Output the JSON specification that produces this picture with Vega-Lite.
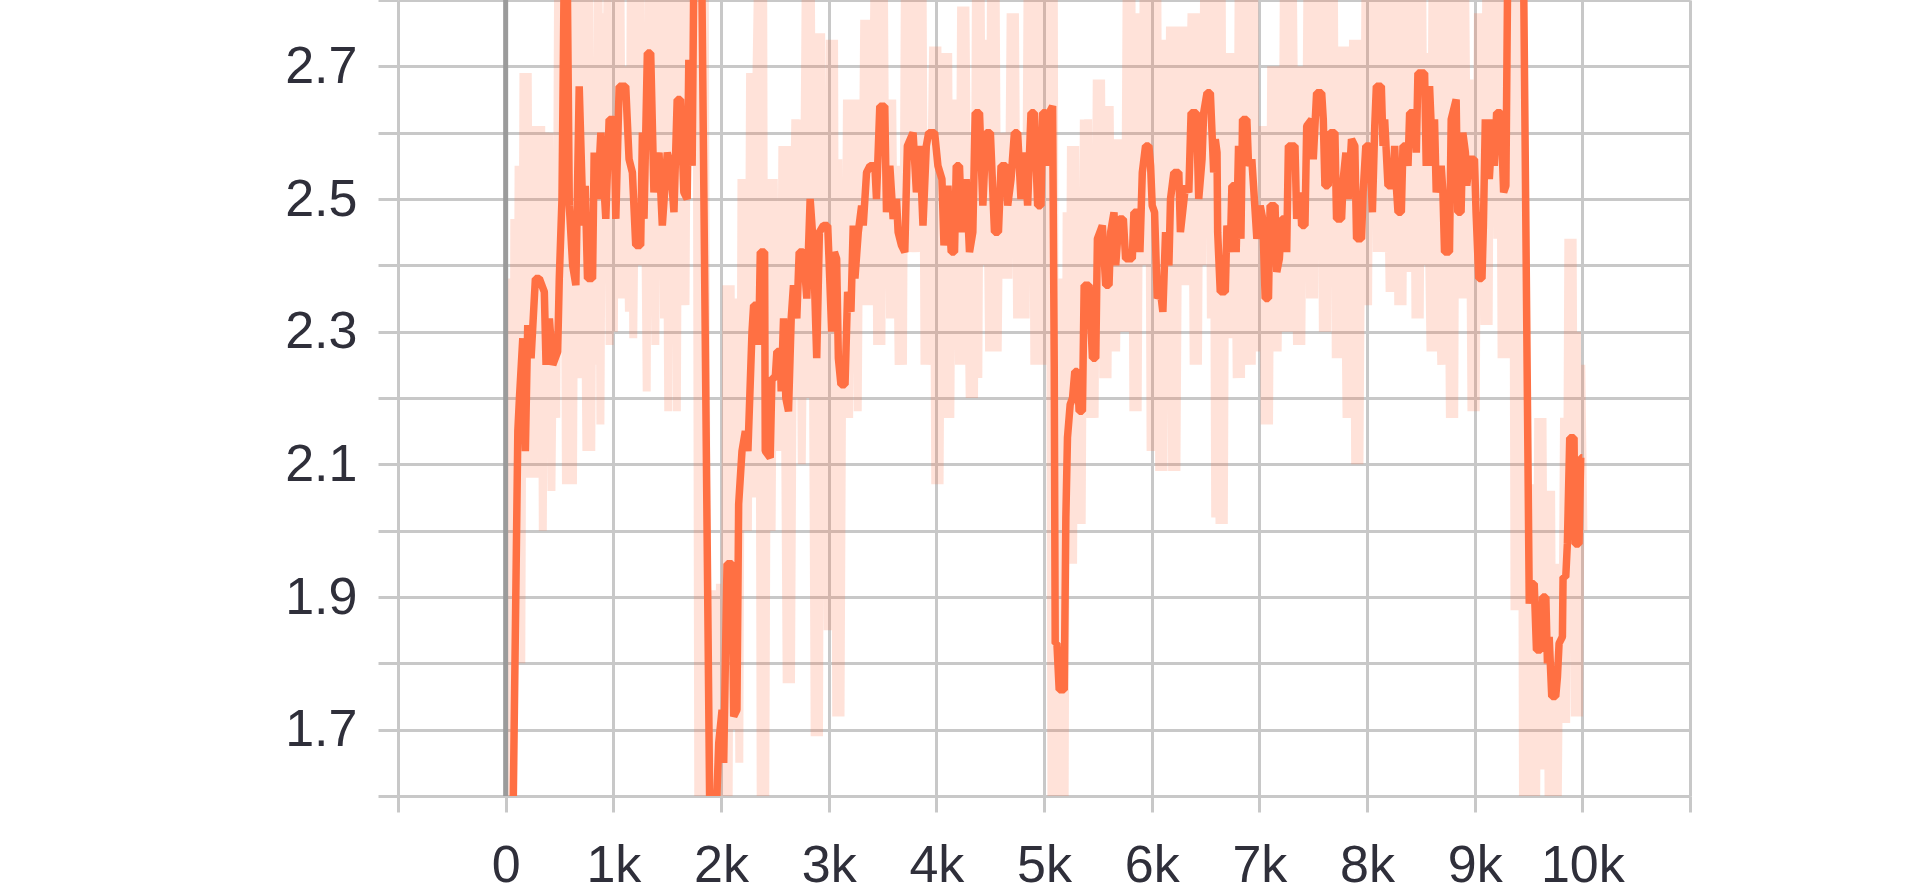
{
"$schema": "https://vega.github.io/schema/vega-lite/v6.json",
"width": 1292, "height": 796,
"autosize": {"type": "none"},
"padding": {"left": 398, "top": 0, "right": 230, "bottom": 97},
"background": "white",
"config": {"view": {"stroke": null}},
"datasets": {
"zero": [{"step": 0}],
"smoothed": [
{"step":52,"value":1.35},{"step":113,"value":2.15},{"step":128,"value":2.2},{"step":159,"value":2.29},{"step":183,"value":2.12},{"step":205,"value":2.31},{"step":236,"value":2.26},{"step":276,"value":2.38},{"step":313,"value":2.38},{"step":359,"value":2.36},{"step":375,"value":2.25},{"step":406,"value":2.32},{"step":437,"value":2.25},{"step":483,"value":2.27},{"step":498,"value":2.38},{"step":523,"value":2.5},{"step":544,"value":2.85},{"step":566,"value":2.95},{"step":591,"value":2.49},{"step":622,"value":2.4},{"step":652,"value":2.37},{"step":683,"value":2.67},{"step":720,"value":2.46},{"step":739,"value":2.52},{"step":760,"value":2.38},{"step":807,"value":2.38},{"step":822,"value":2.57},{"step":853,"value":2.5},{"step":884,"value":2.6},{"step":930,"value":2.47},{"step":961,"value":2.62},{"step":1007,"value":2.62},{"step":1023,"value":2.47},{"step":1054,"value":2.67},{"step":1115,"value":2.67},{"step":1146,"value":2.56},{"step":1177,"value":2.54},{"step":1208,"value":2.43},{"step":1254,"value":2.43},{"step":1270,"value":2.6},{"step":1285,"value":2.47},{"step":1316,"value":2.72},{"step":1347,"value":2.72},{"step":1377,"value":2.51},{"step":1424,"value":2.57},{"step":1455,"value":2.46},{"step":1501,"value":2.57},{"step":1532,"value":2.55},{"step":1563,"value":2.48},{"step":1593,"value":2.65},{"step":1624,"value":2.65},{"step":1655,"value":2.51},{"step":1686,"value":2.5},{"step":1701,"value":2.71},{"step":1732,"value":2.55},{"step":1748,"value":2.85},{"step":1780,"value":3.0},{"step":1815,"value":2.95},{"step":1900,"value":1.5},{"step":1940,"value":1.5},{"step":1979,"value":1.68},{"step":2010,"value":1.73},{"step":2025,"value":1.65},{"step":2056,"value":1.95},{"step":2103,"value":1.95},{"step":2118,"value":1.72},{"step":2148,"value":1.73},{"step":2164,"value":2.04},{"step":2195,"value":2.12},{"step":2226,"value":2.15},{"step":2250,"value":2.12},{"step":2288,"value":2.3},{"step":2303,"value":2.34},{"step":2334,"value":2.34},{"step":2350,"value":2.28},{"step":2365,"value":2.42},{"step":2405,"value":2.42},{"step":2411,"value":2.12},{"step":2457,"value":2.11},{"step":2473,"value":2.23},{"step":2504,"value":2.23},{"step":2519,"value":2.27},{"step":2550,"value":2.27},{"step":2559,"value":2.21},{"step":2581,"value":2.32},{"step":2602,"value":2.2},{"step":2627,"value":2.18},{"step":2652,"value":2.32},{"step":2673,"value":2.37},{"step":2704,"value":2.32},{"step":2726,"value":2.42},{"step":2766,"value":2.42},{"step":2797,"value":2.35},{"step":2828,"value":2.5},{"step":2858,"value":2.43},{"step":2889,"value":2.26},{"step":2914,"value":2.45},{"step":2951,"value":2.46},{"step":2991,"value":2.46},{"step":3003,"value":2.41},{"step":3028,"value":2.3},{"step":3053,"value":2.42},{"step":3074,"value":2.41},{"step":3090,"value":2.26},{"step":3114,"value":2.22},{"step":3152,"value":2.22},{"step":3176,"value":2.36},{"step":3207,"value":2.33},{"step":3228,"value":2.46},{"step":3244,"value":2.38},{"step":3275,"value":2.45},{"step":3306,"value":2.49},{"step":3321,"value":2.46},{"step":3352,"value":2.54},{"step":3383,"value":2.55},{"step":3429,"value":2.55},{"step":3444,"value":2.5},{"step":3475,"value":2.64},{"step":3521,"value":2.64},{"step":3537,"value":2.48},{"step":3568,"value":2.55},{"step":3599,"value":2.47},{"step":3630,"value":2.5},{"step":3645,"value":2.45},{"step":3676,"value":2.43},{"step":3707,"value":2.42},{"step":3731,"value":2.58},{"step":3784,"value":2.6},{"step":3815,"value":2.51},{"step":3846,"value":2.58},{"step":3876,"value":2.46},{"step":3907,"value":2.58},{"step":3929,"value":2.6},{"step":3984,"value":2.6},{"step":4015,"value":2.55},{"step":4052,"value":2.53},{"step":4071,"value":2.43},{"step":4108,"value":2.52},{"step":4138,"value":2.42},{"step":4169,"value":2.42},{"step":4185,"value":2.55},{"step":4215,"value":2.55},{"step":4237,"value":2.45},{"step":4277,"value":2.53},{"step":4308,"value":2.42},{"step":4339,"value":2.45},{"step":4361,"value":2.63},{"step":4401,"value":2.63},{"step":4432,"value":2.49},{"step":4462,"value":2.6},{"step":4502,"value":2.6},{"step":4540,"value":2.45},{"step":4577,"value":2.45},{"step":4601,"value":2.55},{"step":4647,"value":2.55},{"step":4663,"value":2.49},{"step":4694,"value":2.53},{"step":4725,"value":2.6},{"step":4755,"value":2.6},{"step":4786,"value":2.5},{"step":4817,"value":2.57},{"step":4848,"value":2.49},{"step":4879,"value":2.63},{"step":4910,"value":2.63},{"step":4941,"value":2.49},{"step":4972,"value":2.49},{"step":4987,"value":2.63},{"step":5018,"value":2.63},{"step":5033,"value":2.55},{"step":5049,"value":2.63},{"step":5080,"value":2.64},{"step":5095,"value":2.25},{"step":5104,"value":1.83},{"step":5120,"value":1.83},{"step":5141,"value":1.76},{"step":5188,"value":1.76},{"step":5203,"value":2.02},{"step":5218,"value":2.14},{"step":5243,"value":2.19},{"step":5265,"value":2.2},{"step":5286,"value":2.24},{"step":5311,"value":2.24},{"step":5326,"value":2.18},{"step":5357,"value":2.18},{"step":5373,"value":2.37},{"step":5419,"value":2.37},{"step":5450,"value":2.26},{"step":5481,"value":2.26},{"step":5496,"value":2.44},{"step":5542,"value":2.46},{"step":5573,"value":2.37},{"step":5604,"value":2.37},{"step":5619,"value":2.45},{"step":5650,"value":2.48},{"step":5666,"value":2.4},{"step":5697,"value":2.47},{"step":5737,"value":2.47},{"step":5758,"value":2.41},{"step":5820,"value":2.41},{"step":5835,"value":2.48},{"step":5872,"value":2.48},{"step":5891,"value":2.42},{"step":5913,"value":2.54},{"step":5943,"value":2.58},{"step":5974,"value":2.58},{"step":5990,"value":2.55},{"step":6005,"value":2.49},{"step":6027,"value":2.48},{"step":6052,"value":2.35},{"step":6082,"value":2.36},{"step":6104,"value":2.33},{"step":6129,"value":2.45},{"step":6160,"value":2.4},{"step":6175,"value":2.5},{"step":6206,"value":2.54},{"step":6252,"value":2.54},{"step":6267,"value":2.45},{"step":6314,"value":2.52},{"step":6345,"value":2.51},{"step":6366,"value":2.63},{"step":6416,"value":2.63},{"step":6437,"value":2.5},{"step":6468,"value":2.56},{"step":6483,"value":2.63},{"step":6514,"value":2.66},{"step":6545,"value":2.66},{"step":6576,"value":2.54},{"step":6591,"value":2.59},{"step":6607,"value":2.57},{"step":6613,"value":2.45},{"step":6637,"value":2.36},{"step":6684,"value":2.36},{"step":6699,"value":2.46},{"step":6730,"value":2.42},{"step":6745,"value":2.52},{"step":6776,"value":2.52},{"step":6785,"value":2.42},{"step":6807,"value":2.58},{"step":6829,"value":2.44},{"step":6844,"value":2.62},{"step":6884,"value":2.62},{"step":6900,"value":2.55},{"step":6930,"value":2.56},{"step":6946,"value":2.52},{"step":6977,"value":2.44},{"step":7008,"value":2.49},{"step":7032,"value":2.47},{"step":7054,"value":2.35},{"step":7085,"value":2.35},{"step":7100,"value":2.49},{"step":7146,"value":2.49},{"step":7162,"value":2.39},{"step":7186,"value":2.41},{"step":7208,"value":2.47},{"step":7239,"value":2.47},{"step":7254,"value":2.42},{"step":7270,"value":2.58},{"step":7331,"value":2.58},{"step":7347,"value":2.47},{"step":7378,"value":2.51},{"step":7393,"value":2.46},{"step":7424,"value":2.46},{"step":7440,"value":2.61},{"step":7486,"value":2.62},{"step":7501,"value":2.56},{"step":7532,"value":2.66},{"step":7579,"value":2.66},{"step":7594,"value":2.62},{"step":7609,"value":2.52},{"step":7640,"value":2.52},{"step":7656,"value":2.6},{"step":7702,"value":2.6},{"step":7717,"value":2.47},{"step":7764,"value":2.47},{"step":7779,"value":2.53},{"step":7804,"value":2.57},{"step":7825,"value":2.5},{"step":7856,"value":2.59},{"step":7887,"value":2.58},{"step":7903,"value":2.44},{"step":7949,"value":2.44},{"step":7964,"value":2.51},{"step":7989,"value":2.58},{"step":8026,"value":2.58},{"step":8050,"value":2.48},{"step":8072,"value":2.61},{"step":8087,"value":2.67},{"step":8133,"value":2.67},{"step":8149,"value":2.58},{"step":8164,"value":2.62},{"step":8195,"value":2.52},{"step":8241,"value":2.52},{"step":8257,"value":2.58},{"step":8272,"value":2.52},{"step":8288,"value":2.48},{"step":8319,"value":2.48},{"step":8334,"value":2.58},{"step":8365,"value":2.58},{"step":8381,"value":2.55},{"step":8396,"value":2.63},{"step":8442,"value":2.63},{"step":8458,"value":2.57},{"step":8473,"value":2.69},{"step":8535,"value":2.69},{"step":8550,"value":2.55},{"step":8581,"value":2.67},{"step":8612,"value":2.55},{"step":8627,"value":2.62},{"step":8643,"value":2.51},{"step":8689,"value":2.55},{"step":8705,"value":2.51},{"step":8720,"value":2.42},{"step":8766,"value":2.42},{"step":8782,"value":2.62},{"step":8828,"value":2.65},{"step":8843,"value":2.48},{"step":8874,"value":2.48},{"step":8890,"value":2.6},{"step":8914,"value":2.57},{"step":8927,"value":2.52},{"step":8951,"value":2.56},{"step":8998,"value":2.56},{"step":9013,"value":2.48},{"step":9038,"value":2.38},{"step":9068,"value":2.38},{"step":9081,"value":2.46},{"step":9099,"value":2.62},{"step":9136,"value":2.53},{"step":9167,"value":2.62},{"step":9183,"value":2.55},{"step":9204,"value":2.63},{"step":9244,"value":2.63},{"step":9269,"value":2.51},{"step":9290,"value":2.52},{"step":9320,"value":3.1},{"step":9400,"value":3.2},{"step":9440,"value":3.1},{"step":9507,"value":1.89},{"step":9531,"value":1.92},{"step":9553,"value":1.92},{"step":9574,"value":1.82},{"step":9614,"value":1.82},{"step":9630,"value":1.9},{"step":9661,"value":1.9},{"step":9676,"value":1.8},{"step":9692,"value":1.84},{"step":9716,"value":1.75},{"step":9753,"value":1.75},{"step":9769,"value":1.78},{"step":9784,"value":1.83},{"step":9815,"value":1.84},{"step":9821,"value":1.93},{"step":9846,"value":1.93},{"step":9861,"value":1.98},{"step":9883,"value":2.14},{"step":9923,"value":2.14},{"step":9932,"value":1.98},{"step":9969,"value":1.98},{"step":9985,"value":2.11},{"step":10000,"value":2.11}
],
"raw": [
{"step":35,"value":1.3},{"step":50,"value":2.38},{"step":65,"value":1.55},{"step":80,"value":2.47},{"step":100,"value":1.8},{"step":120,"value":2.55},{"step":145,"value":1.8},{"step":165,"value":2.69},{"step":185,"value":2.15},{"step":205,"value":2.69},{"step":225,"value":2.08},{"step":245,"value":2.45},{"step":270,"value":2.61},{"step":290,"value":2.08},{"step":310,"value":2.45},{"step":330,"value":2.61},{"step":345,"value":2.0},{"step":365,"value":2.6},{"step":385,"value":2.3},{"step":405,"value":2.6},{"step":425,"value":2.06},{"step":445,"value":2.4},{"step":470,"value":2.17},{"step":490,"value":2.95},{"step":515,"value":2.5},{"step":535,"value":2.95},{"step":560,"value":2.07},{"step":580,"value":2.9},{"step":600,"value":2.3},{"step":625,"value":2.07},{"step":650,"value":2.85},{"step":670,"value":2.4},{"step":690,"value":2.23},{"step":710,"value":2.95},{"step":730,"value":2.5},{"step":750,"value":2.12},{"step":775,"value":2.9},{"step":795,"value":2.12},{"step":815,"value":2.7},{"step":840,"value":2.25},{"step":860,"value":2.9},{"step":880,"value":2.16},{"step":900,"value":2.78},{"step":920,"value":2.45},{"step":945,"value":2.8},{"step":965,"value":2.28},{"step":985,"value":2.65},{"step":1005,"value":2.3},{"step":1025,"value":2.9},{"step":1045,"value":2.35},{"step":1065,"value":2.85},{"step":1085,"value":2.35},{"step":1105,"value":2.7},{"step":1125,"value":2.55},{"step":1145,"value":2.33},{"step":1165,"value":2.9},{"step":1185,"value":2.29},{"step":1205,"value":2.6},{"step":1225,"value":2.45},{"step":1245,"value":2.95},{"step":1265,"value":2.4},{"step":1290,"value":2.6},{"step":1310,"value":2.21},{"step":1330,"value":2.9},{"step":1350,"value":2.5},{"step":1370,"value":2.68},{"step":1390,"value":2.28},{"step":1410,"value":2.9},{"step":1430,"value":2.4},{"step":1450,"value":2.85},{"step":1470,"value":2.32},{"step":1490,"value":2.75},{"step":1510,"value":2.18},{"step":1530,"value":2.95},{"step":1550,"value":2.4},{"step":1570,"value":2.9},{"step":1590,"value":2.18},
{"step":1610,"value":2.9},{"step":1630,"value":2.34},{"step":1650,"value":2.95},{"step":1670,"value":2.34},{"step":1690,"value":2.85},{"step":1710,"value":2.6},{"step":1730,"value":3.0},{"step":1750,"value":2.9},{"step":1770,"value":3.1},{"step":1790,"value":1.5},{"step":1810,"value":3.0},{"step":1830,"value":1.4},{"step":1850,"value":2.8},{"step":1870,"value":1.69},{"step":1890,"value":1.5},{"step":1910,"value":1.91},{"step":1930,"value":1.4},{"step":1950,"value":1.91},{"step":1970,"value":1.45},{"step":1990,"value":1.92},{"step":2010,"value":1.5},{"step":2030,"value":1.6},{"step":2050,"value":2.37},{"step":2070,"value":1.55},{"step":2090,"value":2.37},{"step":2110,"value":1.7},{"step":2130,"value":2.18},{"step":2150,"value":2.35},{"step":2170,"value":1.65},{"step":2190,"value":2.53},{"step":2210,"value":2.0},{"step":2230,"value":2.53},{"step":2250,"value":2.0},{"step":2270,"value":2.69},{"step":2290,"value":2.3},{"step":2310,"value":2.05},{"step":2330,"value":2.69},{"step":2350,"value":2.9},{"step":2370,"value":1.5},{"step":2390,"value":2.95},{"step":2410,"value":1.55},{"step":2430,"value":2.4},{"step":2450,"value":2.53},{"step":2470,"value":2.0},{"step":2490,"value":2.53},{"step":2510,"value":2.12},{"step":2530,"value":2.42},{"step":2550,"value":2.12},{"step":2570,"value":2.58},{"step":2590,"value":2.3},{"step":2610,"value":1.77},{"step":2630,"value":2.58},{"step":2650,"value":1.77},{"step":2670,"value":2.4},{"step":2690,"value":2.62},{"step":2710,"value":2.2},{"step":2730,"value":2.62},{"step":2750,"value":2.1},{"step":2770,"value":2.45},{"step":2790,"value":2.9},{"step":2810,"value":2.2},{"step":2830,"value":2.95},{"step":2850,"value":2.4},{"step":2870,"value":1.69},{"step":2890,"value":2.75},{"step":2910,"value":1.69},{"step":2930,"value":2.75},{"step":2950,"value":2.3},{"step":2970,"value":2.5},{"step":2990,"value":1.85},{"step":3010,"value":2.74},{"step":3030,"value":1.85},{"step":3050,"value":2.74},{"step":3070,"value":1.72},{"step":3090,"value":2.56},{"step":3110,"value":1.72},{"step":3130,"value":2.4},{"step":3150,"value":2.17},{"step":3170,"value":2.65},{"step":3190,"value":2.17},{"step":3210,"value":2.65},{"step":3230,"value":2.4},{"step":3250,"value":2.65},
{"step":3270,"value":2.18},{"step":3290,"value":2.65},{"step":3310,"value":2.4},{"step":3330,"value":2.77},{"step":3350,"value":2.34},{"step":3370,"value":2.77},{"step":3390,"value":2.34},{"step":3410,"value":2.6},{"step":3430,"value":2.9},{"step":3450,"value":2.28},{"step":3470,"value":2.85},{"step":3490,"value":2.28},{"step":3510,"value":2.9},{"step":3530,"value":2.4},{"step":3550,"value":2.65},{"step":3570,"value":2.32},{"step":3590,"value":2.65},{"step":3610,"value":2.32},{"step":3630,"value":2.55},{"step":3650,"value":2.25},{"step":3670,"value":2.5},{"step":3690,"value":2.25},{"step":3710,"value":2.9},{"step":3730,"value":2.45},{"step":3750,"value":2.95},{"step":3770,"value":2.42},{"step":3790,"value":2.6},{"step":3810,"value":2.42},{"step":3830,"value":2.95},{"step":3850,"value":2.5},{"step":3870,"value":2.9},{"step":3890,"value":2.25},{"step":3910,"value":2.6},{"step":3930,"value":2.25},{"step":3950,"value":2.5},{"step":3970,"value":2.73},{"step":3990,"value":2.07},{"step":4010,"value":2.73},{"step":4030,"value":2.07},{"step":4050,"value":2.6},{"step":4070,"value":2.72},{"step":4090,"value":2.17},{"step":4110,"value":2.72},{"step":4130,"value":2.17},{"step":4150,"value":2.65},{"step":4170,"value":2.4},{"step":4190,"value":2.65},{"step":4210,"value":2.25},{"step":4230,"value":2.79},{"step":4250,"value":2.25},{"step":4270,"value":2.79},{"step":4290,"value":2.45},{"step":4310,"value":2.2},{"step":4330,"value":2.6},{"step":4350,"value":2.2},{"step":4370,"value":2.9},{"step":4390,"value":2.23},{"step":4410,"value":2.85},{"step":4430,"value":2.4},{"step":4450,"value":2.74},{"step":4470,"value":2.6},{"step":4490,"value":2.27},{"step":4510,"value":2.9},{"step":4530,"value":2.27},{"step":4550,"value":2.85},{"step":4570,"value":2.27},{"step":4590,"value":2.6},{"step":4610,"value":2.45},{"step":4630,"value":2.38},{"step":4650,"value":2.6},{"step":4670,"value":2.38},{"step":4690,"value":2.78},{"step":4710,"value":2.5},{"step":4730,"value":2.78},{"step":4750,"value":2.32},{"step":4770,"value":2.6},{"step":4790,"value":2.32},{"step":4810,"value":2.55},{"step":4830,"value":2.32},{"step":4850,"value":2.9},{"step":4870,"value":2.45},{"step":4890,"value":2.9},{"step":4910,"value":2.25},{"step":4930,"value":2.95},
{"step":4950,"value":2.25},{"step":4970,"value":2.9},{"step":4990,"value":2.25},{"step":5010,"value":2.95},{"step":5030,"value":2.5},{"step":5050,"value":2.95},{"step":5070,"value":1.5},{"step":5090,"value":2.9},{"step":5110,"value":1.4},{"step":5130,"value":2.2},{"step":5150,"value":1.45},{"step":5170,"value":2.38},{"step":5190,"value":1.5},{"step":5210,"value":2.48},{"step":5230,"value":1.95},{"step":5250,"value":2.58},{"step":5270,"value":1.95},{"step":5290,"value":2.58},{"step":5310,"value":2.01},{"step":5330,"value":2.4},{"step":5350,"value":2.01},{"step":5370,"value":2.62},{"step":5390,"value":2.3},{"step":5410,"value":2.62},{"step":5430,"value":2.17},{"step":5450,"value":2.5},{"step":5470,"value":2.17},{"step":5490,"value":2.68},{"step":5510,"value":2.4},{"step":5530,"value":2.68},{"step":5550,"value":2.23},{"step":5570,"value":2.64},{"step":5590,"value":2.23},{"step":5610,"value":2.64},{"step":5630,"value":2.27},{"step":5650,"value":2.59},{"step":5670,"value":2.27},{"step":5690,"value":2.59},{"step":5710,"value":2.3},{"step":5730,"value":2.45},{"step":5750,"value":2.3},{"step":5770,"value":2.9},{"step":5790,"value":2.3},{"step":5810,"value":2.9},{"step":5830,"value":2.18},{"step":5850,"value":2.78},{"step":5870,"value":2.18},{"step":5890,"value":2.78},{"step":5910,"value":2.4},{"step":5930,"value":2.95},{"step":5950,"value":2.5},{"step":5970,"value":2.95},{"step":5990,"value":2.12},{"step":6010,"value":2.9},{"step":6030,"value":2.12},{"step":6050,"value":2.95},{"step":6070,"value":2.09},{"step":6090,"value":2.74},{"step":6110,"value":2.09},{"step":6130,"value":2.74},{"step":6150,"value":2.25},{"step":6170,"value":2.76},{"step":6190,"value":2.09},{"step":6210,"value":2.76},{"step":6230,"value":2.09},{"step":6250,"value":2.6},{"step":6270,"value":2.76},{"step":6290,"value":2.37},{"step":6310,"value":2.76},{"step":6330,"value":2.37},{"step":6350,"value":2.6},{"step":6370,"value":2.78},{"step":6390,"value":2.25},{"step":6410,"value":2.78},{"step":6430,"value":2.25},{"step":6450,"value":2.78},{"step":6470,"value":2.4},{"step":6490,"value":2.9},{"step":6510,"value":2.5},{"step":6530,"value":2.95},{"step":6550,"value":2.32},{"step":6570,"value":2.9},{"step":6590,"value":2.02},{"step":6610,"value":2.8},
{"step":6630,"value":2.01},{"step":6650,"value":2.85},{"step":6670,"value":2.01},{"step":6690,"value":2.72},{"step":6710,"value":2.29},{"step":6730,"value":2.72},{"step":6750,"value":2.29},{"step":6770,"value":2.6},{"step":6790,"value":2.23},{"step":6810,"value":2.9},{"step":6830,"value":2.23},{"step":6850,"value":2.9},{"step":6870,"value":2.4},{"step":6890,"value":2.25},{"step":6910,"value":2.95},{"step":6930,"value":2.25},{"step":6950,"value":2.9},{"step":6970,"value":2.27},{"step":6990,"value":2.5},{"step":7010,"value":2.27},{"step":7030,"value":2.61},{"step":7050,"value":2.16},{"step":7070,"value":2.61},{"step":7090,"value":2.16},{"step":7110,"value":2.7},{"step":7130,"value":2.27},{"step":7150,"value":2.7},{"step":7170,"value":2.27},{"step":7190,"value":2.55},{"step":7210,"value":2.3},{"step":7230,"value":2.9},{"step":7250,"value":2.3},{"step":7270,"value":2.95},{"step":7290,"value":2.3},{"step":7310,"value":2.85},{"step":7330,"value":2.5},{"step":7350,"value":2.28},{"step":7370,"value":2.7},{"step":7390,"value":2.28},{"step":7410,"value":2.7},{"step":7430,"value":2.45},{"step":7450,"value":2.9},{"step":7470,"value":2.35},{"step":7490,"value":2.9},{"step":7510,"value":2.35},{"step":7530,"value":2.95},{"step":7550,"value":2.5},{"step":7570,"value":2.9},{"step":7590,"value":2.3},{"step":7610,"value":2.85},{"step":7630,"value":2.3},{"step":7650,"value":2.95},{"step":7670,"value":2.5},{"step":7690,"value":2.9},{"step":7710,"value":2.26},{"step":7730,"value":2.67},{"step":7750,"value":2.26},{"step":7770,"value":2.73},{"step":7790,"value":2.5},{"step":7810,"value":2.17},{"step":7830,"value":2.73},{"step":7850,"value":2.17},{"step":7870,"value":2.74},{"step":7890,"value":2.1},{"step":7910,"value":2.74},{"step":7930,"value":2.1},{"step":7950,"value":2.6},{"step":7970,"value":2.4},{"step":7990,"value":2.95},{"step":8010,"value":2.34},{"step":8030,"value":2.9},{"step":8050,"value":2.5},{"step":8070,"value":2.95},{"step":8090,"value":2.42},{"step":8110,"value":2.9},{"step":8130,"value":2.42},{"step":8150,"value":2.85},{"step":8170,"value":2.42},{"step":8190,"value":2.6},{"step":8210,"value":2.36},{"step":8230,"value":2.95},{"step":8250,"value":2.36},{"step":8270,"value":2.9},
{"step":8290,"value":2.34},{"step":8310,"value":2.95},{"step":8330,"value":2.34},{"step":8350,"value":2.9},{"step":8370,"value":2.39},{"step":8390,"value":2.95},{"step":8410,"value":2.39},{"step":8430,"value":2.85},{"step":8450,"value":2.32},{"step":8470,"value":2.95},{"step":8490,"value":2.32},{"step":8510,"value":2.9},{"step":8530,"value":2.4},{"step":8550,"value":2.72},{"step":8570,"value":2.5},{"step":8590,"value":2.27},{"step":8610,"value":2.9},{"step":8630,"value":2.27},{"step":8650,"value":2.95},{"step":8670,"value":2.4},{"step":8690,"value":2.25},{"step":8710,"value":2.9},{"step":8730,"value":2.25},{"step":8750,"value":2.6},{"step":8770,"value":2.17},{"step":8790,"value":2.9},{"step":8810,"value":2.17},{"step":8830,"value":2.95},{"step":8850,"value":2.35},{"step":8870,"value":2.9},{"step":8890,"value":2.35},{"step":8910,"value":2.85},{"step":8930,"value":2.5},{"step":8950,"value":2.68},{"step":8970,"value":2.18},{"step":8990,"value":2.68},{"step":9010,"value":2.18},{"step":9030,"value":2.78},{"step":9050,"value":2.4},{"step":9070,"value":2.78},{"step":9090,"value":2.31},{"step":9110,"value":2.9},{"step":9130,"value":2.31},{"step":9150,"value":2.95},{"step":9170,"value":2.5},{"step":9190,"value":2.9},{"step":9210,"value":2.44},{"step":9230,"value":2.95},{"step":9250,"value":2.26},{"step":9270,"value":3.0},{"step":9290,"value":2.26},{"step":9310,"value":3.1},{"step":9330,"value":2.8},{"step":9350,"value":3.1},{"step":9370,"value":1.88},{"step":9390,"value":3.0},{"step":9410,"value":1.88},{"step":9430,"value":2.9},{"step":9450,"value":1.5},{"step":9470,"value":2.5},{"step":9490,"value":1.45},{"step":9510,"value":2.07},{"step":9530,"value":1.5},{"step":9550,"value":2.07},{"step":9570,"value":1.55},{"step":9590,"value":2.17},{"step":9610,"value":1.64},{"step":9630,"value":2.17},{"step":9650,"value":1.64},{"step":9670,"value":2.06},{"step":9690,"value":1.5},{"step":9710,"value":2.06},{"step":9730,"value":1.45},{"step":9750,"value":1.95},{"step":9770,"value":1.55},{"step":9790,"value":1.95},{"step":9810,"value":1.71},{"step":9830,"value":2.17},{"step":9850,"value":1.71},{"step":9870,"value":2.44},{"step":9890,"value":1.9},{"step":9910,"value":2.44},{"step":9930,"value":1.72},{"step":9950,"value":2.3},{"step":9970,"value":1.72},{"step":9990,"value":2.25},{"step":10010,"value":2.0}
]
},
"layer": [
{
"data": {"name": "raw"},
"mark": {"type": "line", "color": "#ff7043", "strokeOpacity": 0.2, "strokeWidth": 8, "clip": true, "strokeJoin": "bevel"},
"encoding": {
"x": {"field": "step", "type": "quantitative", "scale": {"domain": [-1000, 11000], "nice": false, "zero": false},
"axis": {"values": [-1000,0,1000,2000,3000,4000,5000,6000,7000,8000,9000,10000,11000],
"labelExpr": "datum.value < 0 || datum.value > 10000 ? '' : (datum.value == 0 ? '0' : (datum.value / 1000) + 'k')",
"title": null, "grid": true, "gridColor": "#c8c8c8", "gridWidth": 3, "domain": false,
"tickColor": "#c8c8c8", "tickWidth": 3, "tickSize": 16, "labelPadding": 28,
"labelFont": "Liberation Sans", "labelFontSize": 52, "labelColor": "#2f2f3a",
"labelOverlap": false, "labelFlush": false, "labelBound": false}},
"y": {"field": "value", "type": "quantitative", "scale": {"domain": [1.6, 2.8], "nice": false, "zero": false},
"axis": {"values": [1.6,1.7,1.8,1.9,2.0,2.1,2.2,2.3,2.4,2.5,2.6,2.7,2.8],
"labelExpr": "round(datum.value * 10) % 2 == 1 ? format(datum.value, '.1f') : ''",
"title": null, "grid": true, "gridColor": "#c8c8c8", "gridWidth": 3, "domain": false,
"tickColor": "#c8c8c8", "tickWidth": 3, "tickSize": 20, "labelPadding": 21,
"labelFont": "Liberation Sans", "labelFontSize": 52, "labelColor": "#2f2f3a",
"labelOverlap": false, "labelBound": false, "labelFlush": false}}
}
},
{
"data": {"name": "zero"},
"mark": {"type": "rule", "color": "#9b9b9b", "strokeWidth": 5},
"encoding": {"x": {"field": "step", "type": "quantitative", "scale": {"domain": [-1000, 11000], "nice": false, "zero": false}}}
},
{
"data": {"name": "smoothed"},
"mark": {"type": "line", "color": "#ff7043", "strokeWidth": 7.5, "clip": true, "strokeJoin": "bevel"},
"encoding": {
"x": {"field": "step", "type": "quantitative", "scale": {"domain": [-1000, 11000], "nice": false, "zero": false}},
"y": {"field": "value", "type": "quantitative", "scale": {"domain": [1.6, 2.8], "nice": false, "zero": false}}
}
}
]
}
